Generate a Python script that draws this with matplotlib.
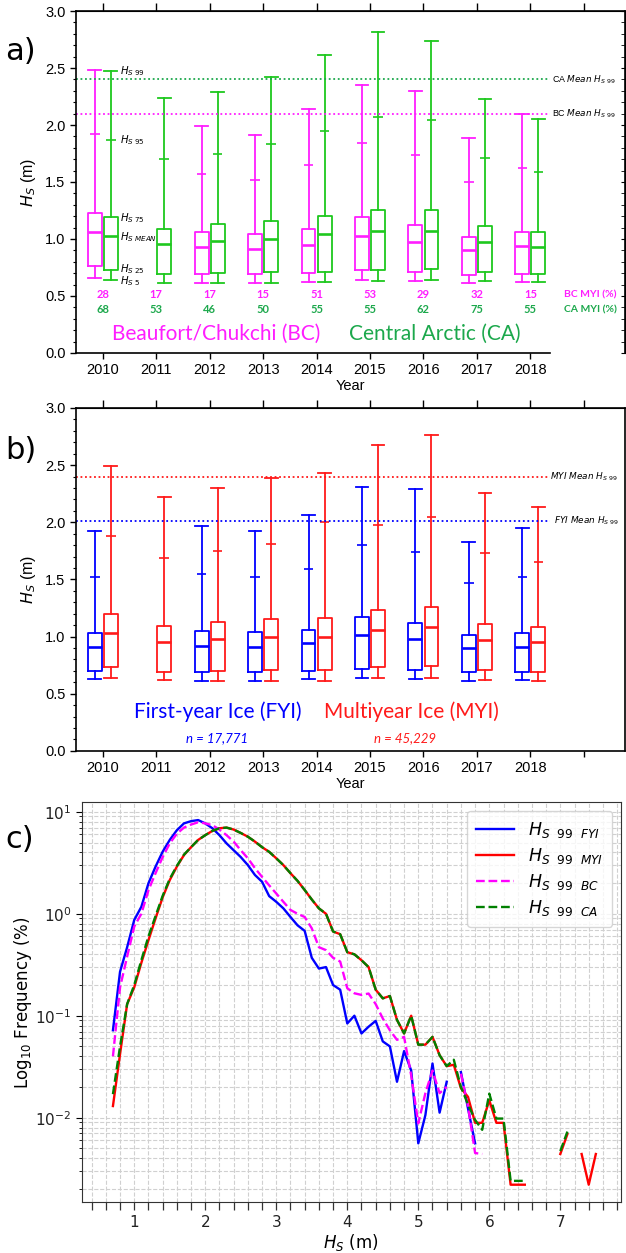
import numpy as np
import matplotlib
matplotlib.use("Agg")
import matplotlib.pyplot as plt
from matplotlib.ticker import MultipleLocator, FixedLocator, FormatStrFormatter

plt.rcParams["font.family"] = ["Liberation Sans", "DejaVu Sans"]

# ----- Data: panel a (Beaufort/Chukchi vs Central Arctic) -----
years = [2010, 2011, 2012, 2013, 2014, 2015, 2016, 2017, 2018]

bc_p99 = [2.48, None, 1.99, 1.91, 2.14, 2.35, 2.30, 1.89, 2.10]
bc_p95 = [1.92, None, 1.57, 1.52, 1.65, 1.84, 1.74, 1.50, 1.62]
bc_p75 = [1.23, None, 1.06, 1.04, 1.09, 1.19, 1.12, 1.02, 1.06]
bc_mean = [1.06, None, 0.93, 0.91, 0.95, 1.03, 0.97, 0.90, 0.94]
bc_p25 = [0.76, None, 0.69, 0.69, 0.70, 0.73, 0.71, 0.68, 0.69]
bc_p5 = [0.66, None, 0.61, 0.61, 0.62, 0.64, 0.63, 0.61, 0.62]

ca_p99 = [2.47, 2.24, 2.29, 2.42, 2.61, 2.82, 2.74, 2.23, 2.05]
ca_p95 = [1.87, 1.70, 1.75, 1.83, 1.95, 2.07, 2.04, 1.71, 1.59]
ca_p75 = [1.19, 1.09, 1.13, 1.16, 1.20, 1.25, 1.25, 1.11, 1.06]
ca_mean = [1.03, 0.96, 0.98, 1.00, 1.04, 1.07, 1.07, 0.97, 0.93]
ca_p25 = [0.73, 0.69, 0.70, 0.71, 0.71, 0.73, 0.74, 0.71, 0.69]
ca_p5 = [0.64, 0.61, 0.61, 0.61, 0.62, 0.63, 0.64, 0.63, 0.62]

bc_myi = [28, 17, 17, 15, 51, 53, 29, 32, 15]
ca_myi = [68, 53, 46, 50, 55, 55, 62, 75, 55]
bc_mean_p99 = 2.10
ca_mean_p99 = 2.40

# ----- Data: panel b (first-year vs multiyear ice) -----
fyi_p99 = [1.92, None, 1.97, 1.92, 2.06, 2.31, 2.29, 1.83, 1.95]
fyi_p95 = [1.52, None, 1.55, 1.52, 1.59, 1.80, 1.74, 1.47, 1.52]
fyi_p75 = [1.03, None, 1.05, 1.04, 1.06, 1.17, 1.12, 1.01, 1.03]
fyi_mean = [0.91, None, 0.92, 0.91, 0.94, 1.01, 0.98, 0.90, 0.91]
fyi_p25 = [0.70, None, 0.69, 0.69, 0.70, 0.72, 0.71, 0.69, 0.69]
fyi_p5 = [0.63, None, 0.61, 0.61, 0.63, 0.64, 0.63, 0.61, 0.62]

myi_p99 = [2.49, 2.22, 2.30, 2.39, 2.43, 2.68, 2.76, 2.26, 2.13]
myi_p95 = [1.88, 1.69, 1.75, 1.81, 2.00, 1.98, 2.05, 1.73, 1.65]
myi_p75 = [1.20, 1.09, 1.13, 1.15, 1.16, 1.23, 1.26, 1.11, 1.08]
myi_mean = [1.03, 0.95, 0.98, 1.00, 1.00, 1.06, 1.08, 0.97, 0.95]
myi_p25 = [0.73, 0.69, 0.70, 0.71, 0.71, 0.73, 0.74, 0.71, 0.69]
myi_p5 = [0.64, 0.62, 0.61, 0.61, 0.61, 0.64, 0.64, 0.62, 0.61]
fyi_mean_p99 = 2.01
myi_mean_p99 = 2.40

# ----- Data: panel c (frequency distributions of Hs99, 0.1 m bins from 0.7 m) -----
nan = np.nan
freq_fyi = [0.072, 0.27, 0.47, 0.87, 1.17, 1.99, 2.9, 4.06, 5.3, 6.6,
            7.7, 8.1, 8.3, 7.7, 6.9, 5.9, 4.9, 4.2, 3.6, 3.0,
            2.4, 2.06, 1.49, 1.31, 1.13, 0.93, 0.77, 0.68, 0.37, 0.29,
            0.30, 0.20, 0.18, 0.084, 0.10, 0.067, 0.078, 0.089, 0.056, 0.050,
            0.0225, 0.045, 0.029, 0.0056, 0.0106, 0.034, 0.0112, 0.0225, nan, 0.028,
            0.0123, 0.0056]
freq_myi = [0.013, 0.042, 0.13, 0.19, 0.33, 0.55, 0.9, 1.45, 2.14, 2.9,
            3.76, 4.5, 5.3, 5.9, 6.5, 6.9, 7.0, 6.7, 6.2, 5.7,
            5.1, 4.5, 4.05, 3.5, 3.0, 2.5, 2.1, 1.71, 1.38, 1.13,
            1.0, 0.67, 0.63, 0.42, 0.40, 0.35, 0.30, 0.18, 0.148, 0.156,
            0.091, 0.067, 0.10, 0.052, 0.052, 0.062, 0.041, 0.032, 0.033, 0.0195,
            0.016, 0.0089, 0.0089, 0.0148, 0.0089, 0.0089, 0.0022, 0.0022, 0.0022, nan,
            nan, nan, nan, 0.0044, 0.0069, nan, 0.0044, 0.0022, 0.0044]
freq_bc = [0.04, 0.19, 0.38, 0.75, 1.0, 1.7, 2.5, 3.6, 4.9, 6.1,
           7.0, 7.5, 7.9, 7.7, 7.4, 6.7, 5.9, 5.1, 4.2, 3.5,
           2.8, 2.3, 1.9, 1.58, 1.31, 1.09, 1.0, 0.93, 0.72, 0.47,
           0.44, 0.37, 0.34, 0.186, 0.166, 0.16, 0.165, 0.13, 0.094, 0.072,
           0.058, 0.062, 0.026, 0.0088, 0.0174, 0.029, 0.0174, 0.020, nan, 0.027,
           0.013, 0.0045, 0.0044]
freq_ca = [0.017, 0.05, 0.13, 0.2, 0.35, 0.6, 0.95, 1.5, 2.2, 2.95,
           3.8, 4.5, 5.3, 5.9, 6.5, 6.9, 7.0, 6.7, 6.2, 5.7,
           5.1, 4.5, 4.05, 3.5, 3.0, 2.5, 2.1, 1.71, 1.38, 1.13,
           1.0, 0.67, 0.63, 0.42, 0.40, 0.35, 0.30, 0.18, 0.148, 0.156,
           0.091, 0.067, 0.10, 0.052, 0.052, 0.062, 0.041, 0.032, 0.037, 0.020,
           0.0135, 0.0095, 0.0076, 0.0172, 0.0098, 0.0098, 0.0024, 0.0024, 0.0024, nan,
           nan, nan, nan, 0.0047, 0.0073]
hs_bins = np.round(0.7 + 0.1 * np.arange(len(freq_myi)), 1)

# ----- Colours -----
MAG = "#ff1eff"
GRN = "#1ec81e"
GRN_TXT = "#1ca84c"
BLUE = "#0000ff"
RED = "#ff1a1a"
CALIBRI = ["Lato", "DejaVu Sans"]
NOTE_SIZE = 6.4

fig = plt.figure(figsize=(6.26, 12.53), dpi=100)


def draw_boxes(ax, offset, p5, p25, mean, p75, p95, p99, color):
    stats, pos = [], []
    for i, y in enumerate(years):
        if p99[i] is None:
            continue
        stats.append({"med": mean[i], "q1": p25[i], "q3": p75[i],
                      "whislo": p5[i], "whishi": p99[i], "fliers": []})
        pos.append(y + offset)
    ax.bxp(stats, positions=pos, widths=0.26, showfliers=False,
           capwidths=0.24, manage_ticks=False,
           boxprops=dict(color=color, lw=1.3),
           whiskerprops=dict(color=color, lw=1.3),
           capprops=dict(color=color, lw=1.3),
           medianprops=dict(color=color, lw=1.9))
    p95_vals = [p95[i] for i in range(len(years)) if p99[i] is not None]
    ax.hlines(p95_vals, np.array(pos) - 0.09, np.array(pos) + 0.09,
              color=color, lw=1.2)


def style_year_axis(ax, bottom_ticks, spine_end):
    ax.set_xlim(2009.5, 2019.77)
    ax.set_ylim(0, 3.0)
    ax.set_xticks(bottom_ticks)
    ax.set_xticklabels([str(y) if y <= 2018 else "" for y in bottom_ticks])
    ax.yaxis.set_major_locator(MultipleLocator(0.5))
    ax.yaxis.set_minor_locator(MultipleLocator(0.1))
    ax.yaxis.set_major_formatter(FormatStrFormatter("%.1f"))
    ax.tick_params(labelsize=10.5)
    ax.tick_params(axis="y", which="major", length=4, width=1, direction="out")
    ax.tick_params(axis="y", which="minor", length=2.5, width=0.8, direction="out")
    ax.tick_params(axis="x", which="major", length=4, width=1, direction="out")
    top = ax.secondary_xaxis("top")
    top.set_xticks(years + [2019])
    top.set_xticklabels([])
    top.tick_params(length=6, width=1, direction="out")
    for s in ["left", "bottom", "top", "right"]:
        ax.spines[s].set_linewidth(1.2)
    ax.spines["bottom"].set_bounds(2009.5, spine_end)
    ax.set_xlabel("Year", fontsize=10.5, labelpad=1)
    ax.set_ylabel("$H_S$ (m)", fontsize=11.5, labelpad=5)


# ----- Panel a -----
axa = fig.add_axes([0.1214, 0.7183, 0.877, 0.2729])
draw_boxes(axa, -0.15, bc_p5, bc_p25, bc_mean, bc_p75, bc_p95, bc_p99, MAG)
draw_boxes(axa, 0.15, ca_p5, ca_p25, ca_mean, ca_p75, ca_p95, ca_p99, GRN)
style_year_axis(axa, years, 2018.36)
right = axa.secondary_yaxis("right")
right.yaxis.set_major_locator(MultipleLocator(0.5))
right.yaxis.set_minor_locator(MultipleLocator(0.1))
right.set_yticklabels([])
right.tick_params(which="both", direction="in", length=3)

axa.hlines(ca_mean_p99, 2009.5, 2018.36, colors=GRN_TXT, linestyles=(0, (1, 1.5)), lw=1.3)
axa.hlines(bc_mean_p99, 2009.5, 2018.36, colors=MAG, linestyles=(0, (1, 1.5)), lw=1.3)
axa.text(2018.4, ca_mean_p99, r"CA $\mathit{Mean}\ H_{S\ 99}$", fontsize=NOTE_SIZE, va="center")
axa.text(2018.4, bc_mean_p99, r"BC $\mathit{Mean}\ H_{S\ 99}$", fontsize=NOTE_SIZE, va="center")

for i, y in enumerate(years):
    axa.text(y, 0.51, str(bc_myi[i]), color=MAG, fontsize=8, fontweight="bold",
             ha="center", va="center", family=CALIBRI)
    axa.text(y, 0.38, str(ca_myi[i]), color=GRN_TXT, fontsize=8, fontweight="bold",
             ha="center", va="center", family=CALIBRI)
axa.text(2018.62, 0.51, "BC MYI (%)", color=MAG, fontsize=7.5, fontweight="bold",
         va="center", family=CALIBRI)
axa.text(2018.62, 0.38, "CA MYI (%)", color=GRN_TXT, fontsize=7.5, fontweight="bold",
         va="center", family=CALIBRI)
axa.text(2012.13, 0.165, "Beaufort/Chukchi (BC)", color=MAG, fontsize=15,
         ha="center", va="center", family=CALIBRI)
axa.text(2016.22, 0.165, "Central Arctic (CA)", color=GRN_TXT, fontsize=15,
         ha="center", va="center", family=CALIBRI)

# percentile labels beside the 2010 CA box
lab_x = 2010.33
for val, lab in [(ca_p99[0], r"$H_{S\ 99}$"), (ca_p95[0], r"$H_{S\ 95}$"),
                 (ca_p75[0] - 0.01, r"$H_{S\ 75}$"), (ca_mean[0] - 0.01, r"$H_{S\ MEAN}$"),
                 (ca_p25[0] + 0.01, r"$H_{S\ 25}$"), (ca_p5[0] - 0.01, r"$H_{S\ 5}$")]:
    axa.text(lab_x, val, lab, fontsize=7.3, va="center")

# ----- Panel b -----
axb = fig.add_axes([0.1214, 0.4007, 0.877, 0.2737])
draw_boxes(axb, -0.15, fyi_p5, fyi_p25, fyi_mean, fyi_p75, fyi_p95, fyi_p99, BLUE)
draw_boxes(axb, 0.15, myi_p5, myi_p25, myi_mean, myi_p75, myi_p95, myi_p99, RED)
style_year_axis(axb, years + [2019], 2019.77)
axb.hlines(myi_mean_p99, 2009.5, 2018.36, colors=RED, linestyles=(0, (1, 1.5)), lw=1.3)
axb.hlines(fyi_mean_p99, 2009.5, 2018.36, colors=BLUE, linestyles=(0, (1, 1.5)), lw=1.3)
axb.text(2018.37, myi_mean_p99, r"$\mathit{MYI\ Mean}\ H_{S\ 99}$", fontsize=NOTE_SIZE, va="center")
axb.text(2018.45, fyi_mean_p99, r"$\mathit{FYI\ Mean}\ H_{S\ 99}$", fontsize=NOTE_SIZE, va="center")
axb.text(2012.16, 0.345, "First-year Ice (FYI)", color=BLUE, fontsize=15,
         ha="center", va="center", family=CALIBRI)
axb.text(2015.78, 0.345, "Multiyear Ice (MYI)", color=RED, fontsize=15,
         ha="center", va="center", family=CALIBRI)
axb.text(2012.13, 0.11, "n = 17,771", color=BLUE, fontsize=9.5, style="italic",
         ha="center", va="center", family=CALIBRI)
axb.text(2015.66, 0.11, "n = 45,229", color=RED, fontsize=9.5, style="italic",
         ha="center", va="center", family=CALIBRI)

# ----- Panel c -----
axc = fig.add_axes([0.1305, 0.0405, 0.861, 0.3192])
DV = "DejaVu Sans"
axc.plot(hs_bins[:len(freq_fyi)], freq_fyi, color="blue", lw=1.7,
         label=r"$H_{S\ \ 99\ \ FYI}$")
axc.plot(hs_bins[:len(freq_myi)], freq_myi, color="red", lw=1.7,
         label=r"$H_{S\ \ 99\ \ MYI}$")
axc.plot(hs_bins[:len(freq_bc)], freq_bc, color="magenta", lw=1.7, ls="--",
         label=r"$H_{S\ \ 99\ \ BC}$")
axc.plot(hs_bins[:len(freq_ca)], freq_ca, color="green", lw=1.7, ls="--",
         label=r"$H_{S\ \ 99\ \ CA}$")
axc.set_yscale("log")
axc.set_xlim(0.26, 7.85)
axc.set_ylim(0.00148, 12.4)
axc.xaxis.set_major_locator(FixedLocator([1, 2, 3, 4, 5, 6, 7]))
axc.xaxis.set_minor_locator(MultipleLocator(0.2))
axc.grid(True, which="both", ls="--", color="#d0d0d0", lw=0.8)
axc.set_axisbelow(True)
axc.tick_params(axis="x", which="both", length=6, width=0.9, color="#333333",
                labelsize=11, labelcolor="#222222", labelfontfamily=DV)
axc.tick_params(axis="y", which="major", length=4, labelsize=11,
                labelcolor="#222222", labelfontfamily=DV)
axc.tick_params(axis="y", which="minor", length=2.5)
for s in axc.spines.values():
    s.set_color("#333333")
axc.set_xlabel("$H_S$ (m)", fontsize=12, family=DV, labelpad=1)
axc.set_ylabel("Log$_{10}$ Frequency (%)", fontsize=12, family=DV, labelpad=1)
leg = axc.legend(loc="upper right", handlelength=2.2,
                 prop={"family": DV, "size": 12.5}, borderpad=0.5, labelspacing=0.35)

fig.text(0.008, 0.952, "a)", fontsize=22, family=DV)
fig.text(0.008, 0.634, "b)", fontsize=22, family=DV)
fig.text(0.008, 0.323, "c)", fontsize=22, family=DV)

fig.savefig("out.png", dpi=100)
